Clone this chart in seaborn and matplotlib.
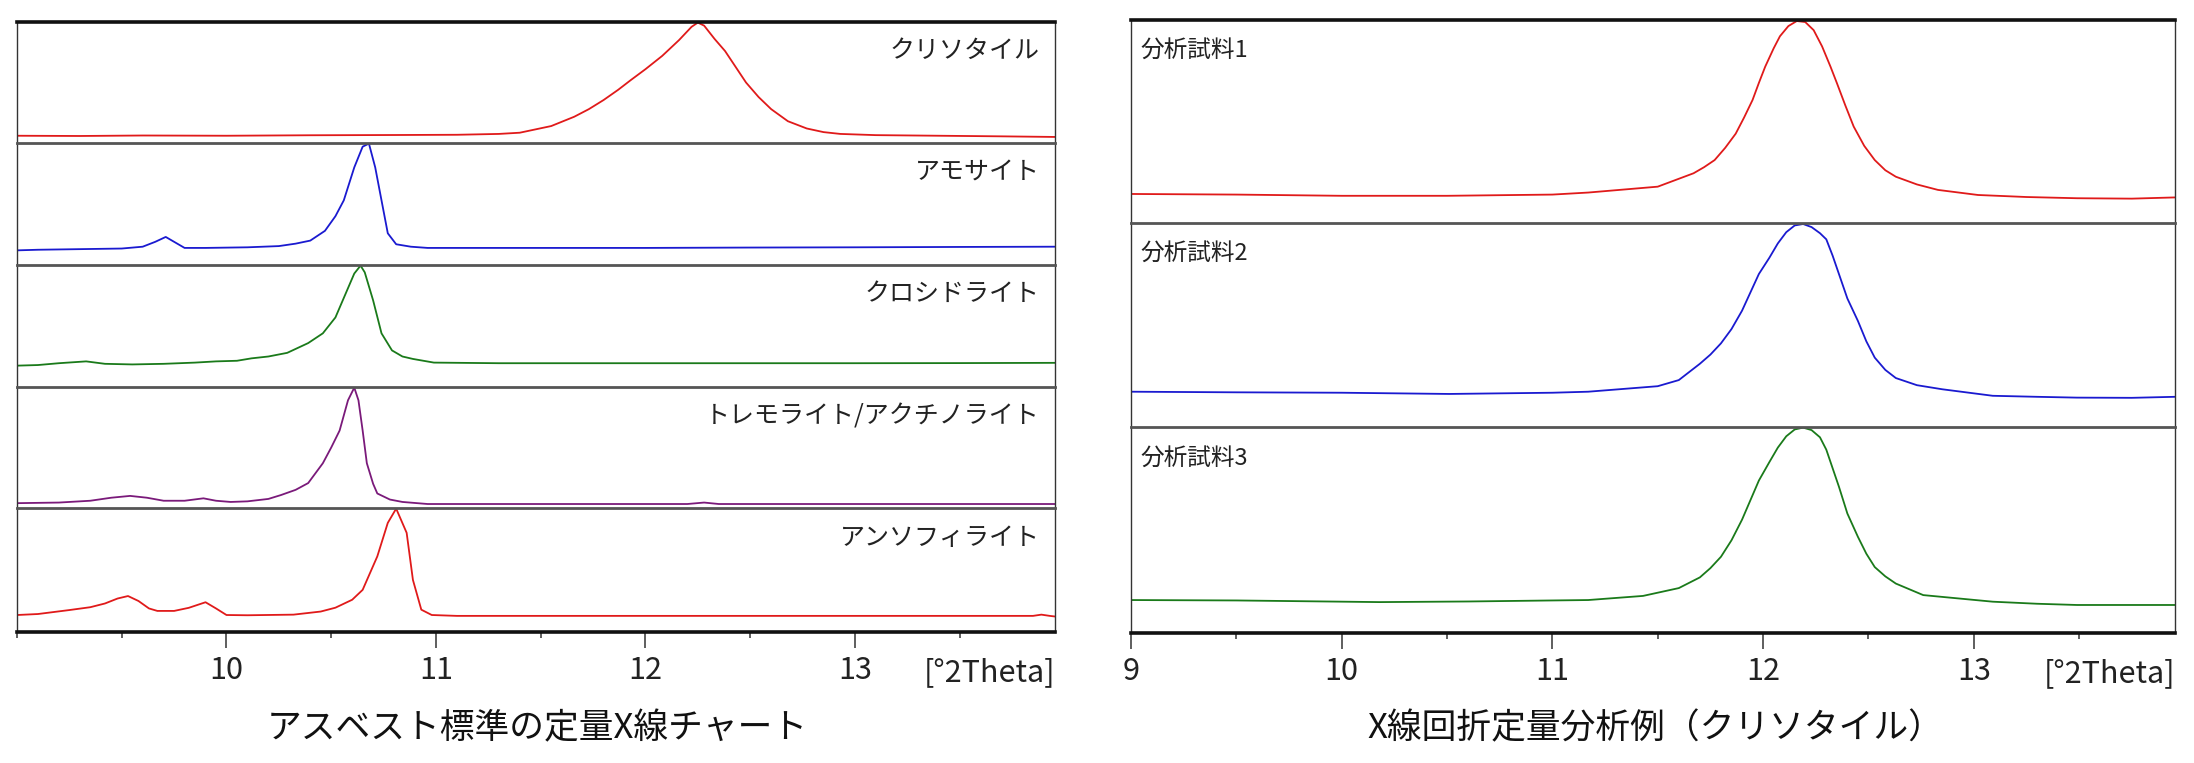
import matplotlib
matplotlib.use("Agg")
import matplotlib.pyplot as plt
import seaborn as sns
import pandas as pd
from matplotlib.ticker import MultipleLocator, FixedLocator

# ---------------- data ----------------
left_labels = ["クリソタイル", "アモサイト", "クロシドライト", "トレモライト/アクチノライト", "アンソフィライト"]
right_labels = ["分析試料1", "分析試料2", "分析試料3"]

chrysotile_x = [9.0, 9.3, 9.6, 10.0, 10.4, 10.8, 11.1, 11.3, 11.4, 11.46, 11.55, 11.66, 11.73, 11.80, 11.87,
                11.93, 12.0, 12.08, 12.16, 12.22, 12.25, 12.28, 12.33, 12.38, 12.43, 12.48, 12.54, 12.60,
                12.68, 12.77, 12.85, 12.93, 13.1, 13.4, 13.7, 13.955]
chrysotile_y = [6.0, 5.8, 6.2, 6.0, 6.4, 6.6, 6.8, 7.5, 8.5, 10.7, 14, 21.7, 28, 35.5, 44,
                52, 61, 72, 85, 96, 99.5, 97, 86, 76, 63, 50, 38, 28,
                18, 12, 9, 7.5, 6.5, 6.0, 5.5, 5.0]

amosite_x = [9.0, 9.1, 9.3, 9.5, 9.6, 9.66, 9.71, 9.76, 9.80, 9.9, 10.1, 10.25, 10.33, 10.40, 10.47,
             10.52, 10.56, 10.61, 10.65, 10.68, 10.71, 10.74, 10.77, 10.81, 10.88, 10.96, 11.5, 12.0,
             12.5, 13.0, 13.5, 13.955]
amosite_y = [12.0, 12.5, 13.0, 13.5, 15, 19, 23, 18, 14, 14, 14.5, 15.5, 17.5, 20, 28,
             40, 53, 80, 97, 99.5, 80, 53, 26, 17, 15, 14, 14, 14,
             14.3, 14.5, 14.8, 15.0]

crocidolite_x = [9.0, 9.1, 9.2, 9.33, 9.42, 9.55, 9.7, 9.85, 9.95, 10.05, 10.12, 10.2, 10.29, 10.39,
                 10.46, 10.52, 10.57, 10.61, 10.64, 10.66, 10.70, 10.74, 10.79, 10.84, 10.89, 10.99,
                 11.3, 12.0, 12.5, 13.0, 13.5, 13.955]
crocidolite_y = [17.5, 18, 19.5, 21, 19, 18.5, 19, 20, 21, 21.5, 23.5, 25, 28, 36,
                 44, 57, 77, 93, 99.5, 94, 71, 44, 30, 25, 23, 20,
                 19.5, 19.5, 19.5, 19.5, 19.6, 19.8]

tremolite_x = [9.0, 9.2, 9.35, 9.45, 9.54, 9.62, 9.7, 9.8, 9.89, 9.95, 10.02, 10.1, 10.2, 10.26, 10.33,
               10.39, 10.46, 10.50, 10.54, 10.58, 10.61, 10.63, 10.65, 10.67, 10.70, 10.72, 10.78,
               10.84, 10.96, 11.5, 12.2, 12.28, 12.35, 13.0, 13.955]
tremolite_y = [4.0, 4.5, 6, 8.5, 10, 8.5, 6, 6, 8, 6, 5, 5.5, 7.5, 10.7, 15,
               20.6, 37, 50, 64, 89, 99.5, 89, 64, 37, 20, 12, 7,
               5, 3.3, 3.3, 3.3, 4.5, 3.3, 3.3, 3.3]

anthophyllite_x = [9.0, 9.1, 9.25, 9.35, 9.42, 9.48, 9.53, 9.58, 9.63, 9.67, 9.75, 9.82, 9.9, 9.95,
                   10.0, 10.1, 10.32, 10.45, 10.52, 10.6, 10.65, 10.72, 10.77, 10.81, 10.86, 10.89,
                   10.93, 10.98, 11.1, 12.0, 13.0, 13.85, 13.89, 13.93, 13.955]
anthophyllite_y = [13.7, 14.5, 17.7, 20, 23, 27, 29, 25, 19, 17, 17, 19.5, 24, 19,
                   13.7, 13.5, 14, 16.5, 19.6, 26, 34, 61, 88, 99.5, 80, 42,
                   18, 13.7, 13, 13, 13, 13, 14, 13, 12.5]

sample1_x = [9.0, 9.5, 10.0, 10.5, 11.0, 11.17, 11.5, 11.67, 11.72, 11.77, 11.82, 11.87, 11.91, 11.95,
             11.98, 12.01, 12.05, 12.08, 12.12, 12.16, 12.20, 12.24, 12.28, 12.32, 12.35, 12.39, 12.43,
             12.48, 12.53, 12.58, 12.63, 12.73, 12.83, 13.02, 13.25, 13.49, 13.75, 13.955]
sample1_y = [14.3, 14.0, 13.4, 13.4, 14.0, 15, 17.9, 24.5, 27.5, 31, 37, 44, 52, 60.6,
             69, 77, 86, 92, 97, 99.5, 99, 95, 87, 77, 69, 58, 47.5,
             38, 31, 26, 22.8, 19, 16.3, 13.8, 12.8, 12.2, 12.0, 12.6]

sample2_x = [9.0, 9.5, 10.0, 10.51, 11.0, 11.17, 11.5, 11.60, 11.70, 11.75, 11.80, 11.85, 11.90, 11.94,
             11.98, 12.03, 12.07, 12.11, 12.15, 12.19, 12.23, 12.27, 12.30, 12.33, 12.36, 12.40, 12.45,
             12.49, 12.53, 12.58, 12.63, 12.73, 12.85, 13.09, 13.3, 13.49, 13.75, 13.955]
sample2_y = [17.3, 17.0, 16.8, 16.2, 16.8, 17.3, 20, 23, 31, 35.5, 41, 48, 57, 66,
             75, 83, 90, 95.5, 98.8, 99.5, 98, 95, 92, 84, 75, 63, 52,
             42, 34, 28, 24, 20.5, 18.5, 15.3, 14.8, 14.4, 14.3, 14.8]

sample3_x = [9.0, 9.5, 10.18, 10.6, 11.0, 11.17, 11.43, 11.60, 11.70, 11.75, 11.80, 11.85, 11.90, 11.94,
             11.98, 12.03, 12.07, 12.11, 12.15, 12.19, 12.23, 12.27, 12.30, 12.33, 12.36, 12.40, 12.45,
             12.49, 12.53, 12.58, 12.63, 12.76, 13.09, 13.3, 13.49, 13.75, 13.955]
sample3_y = [16.0, 15.8, 15.0, 15.3, 15.8, 16, 18, 21.8, 27, 31.5, 37, 45, 55, 64.5,
             74, 83, 90, 95.5, 98.8, 99.7, 98.5, 95, 89, 80, 71, 58, 46.7,
             38.5, 32, 27.5, 24, 18.4, 15.2, 14.2, 13.6, 13.6, 13.6]

left_series = [(chrysotile_x, chrysotile_y), (amosite_x, amosite_y), (crocidolite_x, crocidolite_y),
               (tremolite_x, tremolite_y), (anthophyllite_x, anthophyllite_y)]
right_series = [(sample1_x, sample1_y), (sample2_x, sample2_y), (sample3_x, sample3_y)]

left_colors = ["#e01a1a", "#1a1ad0", "#1a7a1a", "#7a1a7a", "#e01a1a"]
right_colors = ["#e01a1a", "#1a1ad0", "#1a7a1a"]

major_ticks_left = [10, 11, 12, 13]
major_ticks_right = [9, 10, 11, 12, 13]
unit_label = "[°2Theta]"
title_left = "アスベスト標準の定量X線チャート"
title_right = "X線回折定量分析例（クリソタイル）"

# ---------------- styling ----------------
sns.set_theme(style="white")
plt.rcParams['font.family'] = ['Noto Sans CJK JP', 'DejaVu Sans']

W, H = 2194, 763
fig = plt.figure(figsize=(W / 100, H / 100), dpi=100)
fig.patch.set_facecolor("white")


def make_axes(x0, x1, bounds):
    axes = []
    for i in range(len(bounds) - 1):
        top, bot = bounds[i], bounds[i + 1]
        ax = fig.add_axes([x0 / W, 1 - bot / H, (x1 - x0) / W, (bot - top) / H])
        axes.append(ax)
    return axes


left_axes = make_axes(17, 1055, [22, 143, 265, 387, 508, 632])
right_axes = make_axes(1131, 2175, [20, 223, 427, 633])


def style_column(axes, series, colors, labels, label_pos, ha, majors):
    n = len(axes)
    for i, (ax, (xs, ys), c, lab) in enumerate(zip(axes, series, colors, labels)):
        df = pd.DataFrame({"x": xs, "y": ys})
        sns.lineplot(data=df, x="x", y="y", ax=ax, color=c, linewidth=1.3, sort=False)
        ax.set_xlim(9.0, 13.955)
        ax.set_ylim(0, 100)
        ax.set_xlabel("")
        ax.set_ylabel("")
        ax.set_yticks([])
        ax.set_facecolor("white")
        for s in ["left", "right"]:
            ax.spines[s].set_color("#333333")
            ax.spines[s].set_linewidth(1.0)
        if i == 0:
            ax.spines["top"].set_color("#111111")
            ax.spines["top"].set_linewidth(2.6)
        else:
            ax.spines["top"].set_color("#555555")
            ax.spines["top"].set_linewidth(2.0)
        if i == n - 1:
            ax.spines["bottom"].set_color("#111111")
            ax.spines["bottom"].set_linewidth(2.6)
            ax.xaxis.set_major_locator(FixedLocator(majors))
            ax.xaxis.set_minor_locator(MultipleLocator(0.5))
            ax.set_xticklabels([str(t) for t in majors])
            ax.tick_params(axis="x", which="major", direction="out", length=11.5, width=1.1,
                           color="#333333", labelsize=22, pad=5, bottom=True, labelcolor="#222222")
            ax.tick_params(axis="x", which="minor", direction="out", length=4, width=1.1,
                           color="#333333", bottom=True)
            ax.annotate(unit_label, xy=(1.0, 0.0), xycoords="axes fraction",
                        xytext=(0, -29), textcoords="offset points", ha="right", va="center",
                        fontsize=22, color="#222222")
        else:
            ax.spines["bottom"].set_visible(False)
            ax.set_xticks([])
        ax.text(label_pos[0], label_pos[1], lab, transform=ax.transAxes, ha=ha, va="center",
                fontsize=18 if ha == "right" else 17, color="#222222")


style_column(left_axes, left_series, left_colors, left_labels, (0.985, 0.76), "right", major_ticks_left)
style_column(right_axes, right_series, right_colors, right_labels, (0.009, 0.85), "left", major_ticks_right)

fig.text(537 / W, 1 - 729 / H, title_left, ha="center", va="center", fontsize=25, color="#111111")
fig.text(1655 / W, 1 - 729 / H, title_right, ha="center", va="center", fontsize=25, color="#111111")

fig.savefig("out.png", dpi=100, facecolor="white")
